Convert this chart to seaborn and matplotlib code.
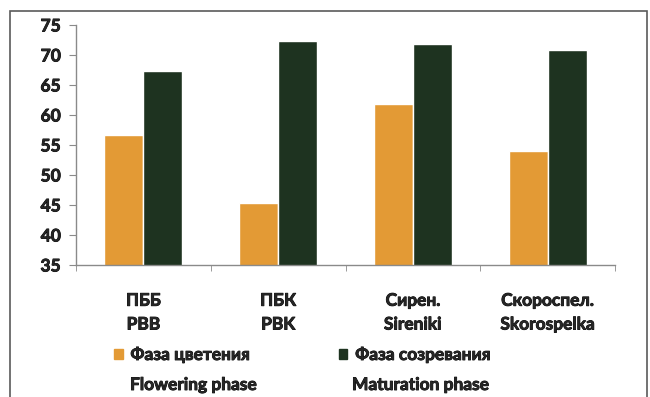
import matplotlib
matplotlib.use("Agg")
import matplotlib.pyplot as plt
import matplotlib.patheffects as pe
from matplotlib.patches import Rectangle
from matplotlib.ticker import FixedLocator
import pandas as pd
import seaborn as sns

# Данные
cultivars = ["ПББ\nPBB", "ПБК\nPBK", "Сирен.\nSireniki", "Скороспел.\nSkorospelka"]
flowering = [56.6, 45.4, 61.8, 54.0]
maturation = [67.4, 72.3, 71.8, 70.8]
phases_ru = ["Фаза цветения", "Фаза созревания"]
phases_en = ["Flowering phase", "Maturation phase"]
colors = ["#E39A35", "#1E3320"]

df = pd.DataFrame({
    "cultivar": cultivars * 2,
    "phase": [phases_ru[0]] * 4 + [phases_ru[1]] * 4,
    "value": flowering + maturation,
})

sns.set_style("white")
plt.rcParams["font.family"] = ["Lato", "DejaVu Sans"]
plt.rcParams["font.weight"] = "bold"
fs = 12.5
bold = [pe.withStroke(linewidth=0.6, foreground="black")]

fig = plt.figure(figsize=(6.5, 3.97), dpi=100)
ax = fig.add_axes([76 / 650, 1 - 265 / 397, (615 - 76) / 650, (265 - 25) / 397])

sns.barplot(data=df, x="cultivar", y="value", hue="phase", palette=colors,
            width=0.58, gap=0, saturation=1, ax=ax, legend=False)

ax.set_ylim(35, 75)
ax.set_yticks(range(35, 76, 5))
ax.set_xlim(-0.5, 3.5)
ax.set_xlabel("")
ax.set_ylabel("")

for s in ["top", "right"]:
    ax.spines[s].set_visible(False)
for s in ["left", "bottom"]:
    ax.spines[s].set_color("#8a8a8a")
    ax.spines[s].set_linewidth(1)

ax.tick_params(axis="y", left=True, length=5, color="#8a8a8a", pad=6, labelsize=fs)
ax.tick_params(axis="x", which="major", length=0, pad=20, labelsize=fs)
ax.xaxis.set_minor_locator(FixedLocator([-0.5, 0.5, 1.5, 2.5, 3.5]))
ax.tick_params(axis="x", which="minor", bottom=True, length=4, color="#8a8a8a")
for lab in ax.get_xticklabels():
    lab.set_linespacing(1.6)
    lab.set_path_effects(bold)
for lab in ax.get_yticklabels():
    lab.set_path_effects(bold)

# легенда
handles = [Rectangle((0, 0), 1, 1, color=c) for c in colors]
leg = fig.legend(handles, phases_ru, loc="center left", bbox_to_anchor=(114 / 650, 1 - 355 / 397),
                 ncol=2, frameon=False, handlelength=0.5, handleheight=0.5, handletextpad=0.45,
                 columnspacing=5.1, borderpad=0, borderaxespad=0,
                 prop={"weight": "bold", "size": fs})
for t in leg.get_texts():
    t.set_path_effects(bold)
fig.text(130 / 650, 1 - 385 / 397, phases_en[0], fontsize=fs, va="center", path_effects=bold)
fig.text(352 / 650, 1 - 385 / 397, phases_en[1], fontsize=fs, va="center", path_effects=bold)

# рамка
fig.patches.append(Rectangle((10 / 650, -0.05), 637 / 650, 1.05 - 11 / 397, fill=False,
                             edgecolor="#5a5a5a", linewidth=1.2, transform=fig.transFigure))

fig.savefig("out.png", dpi=100)
